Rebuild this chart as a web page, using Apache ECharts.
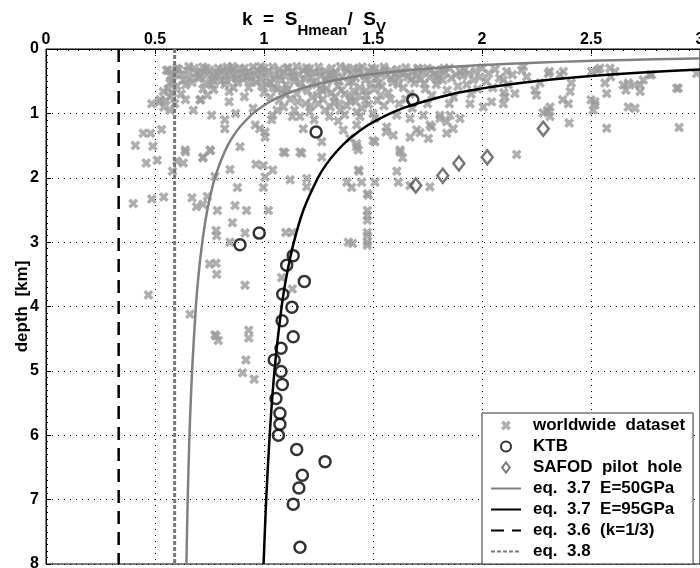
<!DOCTYPE html>
<html>
<head>
<meta charset="utf-8">
<script src="https://cdn.jsdelivr.net/npm/echarts@6/dist/echarts.min.js"></script>
<style>
html,body{margin:0;padding:0;background:#fff;}
#chart{width:700px;height:568px;}
</style>
</head>
<body>
<div id="chart"></div>
<script>
// x ticks (k) and y ticks (depth, km)
var kTicks = [0, 0.5, 1, 1.5, 2, 2.5, 3];
var depthTicks = [0, 1, 2, 3, 4, 5, 6, 7, 8];

// worldwide dataset: [k, depth km]
var worldwide = [
[0.553,0.33],[0.569,0.53],[0.538,0.66],[0.523,0.79],[0.485,0.85],[0.56,0.33],[0.57,0.42],[0.58,0.5],[0.56,0.62],[0.57,0.74],[0.59,0.85],[0.55,0.8],[0.6,0.3],[0.59,0.38],[0.6,0.58],[0.58,0.68],[0.57,0.95],[0.52,0.82],[0.54,0.9],
[0.61,0.32],[0.62,0.4],[0.63,0.48],[0.65,0.34],[0.66,0.45],[0.68,0.3],[0.69,0.38],[0.64,0.56],[0.67,0.52],[0.62,0.7],[0.7,0.46],[0.64,0.79],[0.676,0.95],[0.706,0.79],
[0.71,0.35],[0.72,0.28],[0.74,0.4],[0.75,0.33],[0.77,0.44],[0.78,0.36],[0.73,0.52],[0.76,0.56],[0.79,0.3],[0.8,0.5],[0.72,0.62],[0.74,0.72],[0.71,0.79],[0.77,0.63],[0.76,1.03],
[0.81,0.32],[0.82,0.41],[0.83,0.28],[0.84,0.36],[0.85,0.46],[0.86,0.32],[0.87,0.4],[0.88,0.52],[0.89,0.3],[0.9,0.38],[0.82,0.55],[0.84,0.66],[0.84,0.82],[0.87,1.0],[0.82,1.1],[0.82,1.24],[0.86,0.6],
[0.91,0.3],[0.92,0.43],[0.93,0.35],[0.94,0.5],[0.95,0.28],[0.96,0.4],[0.97,0.33],[0.98,0.47],[0.99,0.37],[1.0,0.3],[0.91,0.74],[0.95,0.92],[0.96,1.18],[0.93,0.6],[0.99,0.58],[1.0,0.68],
[1.01,0.44],[1.02,0.34],[1.03,0.52],[1.04,0.28],[1.05,0.4],[1.06,0.62],[1.07,0.32],[1.08,0.48],[1.09,0.37],[1.1,0.56],[1.04,1.03],[1.035,1.1],[1.005,1.29],[1.005,1.37],[1.09,0.9],[1.03,0.75],[1.07,0.8],[1.1,0.7],[1.06,0.95],[0.98,1.24],
[1.11,0.3],[1.12,0.42],[1.13,0.35],[1.14,0.5],[1.15,0.27],[1.16,0.4],[1.17,0.6],[1.18,0.33],[1.19,0.47],[1.2,0.38],[1.13,1.05],[1.165,1.05],[1.18,1.24],[1.12,0.78],[1.15,0.7],[1.19,0.85],[1.14,0.95],[1.2,0.65],[1.11,0.62],
[1.21,0.31],[1.22,0.44],[1.23,0.36],[1.24,0.55],[1.25,0.28],[1.26,0.42],[1.27,0.65],[1.28,0.34],[1.29,0.5],[1.3,0.4],[1.22,0.75],[1.25,0.85],[1.28,0.95],[1.21,0.98],[1.3,1.05],[1.27,0.78],[1.23,1.1],[1.26,0.6],
[1.31,0.3],[1.32,0.47],[1.33,0.37],[1.34,0.58],[1.35,0.27],[1.36,0.43],[1.37,0.7],[1.38,0.33],[1.39,0.52],[1.4,0.39],[1.32,0.82],[1.35,0.95],[1.38,0.88],[1.31,0.68],[1.4,0.75],[1.364,1.26],[1.394,1.39],[1.34,1.12],[1.37,1.02],
[1.41,0.3],[1.42,0.45],[1.43,0.36],[1.44,0.6],[1.45,0.28],[1.46,0.41],[1.47,0.72],[1.48,0.34],[1.49,0.53],[1.5,0.4],[1.42,0.82],[1.45,0.92],[1.48,0.86],[1.425,1.18],[1.425,1.52],[1.44,1.05],[1.5,1.0],[1.41,0.65],[1.47,0.65],
[1.51,0.31],[1.52,0.46],[1.53,0.37],[1.54,0.58],[1.55,0.28],[1.56,0.42],[1.57,0.68],[1.58,0.34],[1.59,0.52],[1.6,0.4],[1.52,0.8],[1.55,0.88],[1.58,0.78],[1.509,1.08],[1.5,1.42],[1.563,1.21],[1.593,1.34],[1.56,1.29],
[1.61,0.32],[1.62,0.45],[1.63,0.38],[1.64,0.6],[1.65,0.29],[1.66,0.43],[1.67,0.7],[1.68,0.35],[1.69,0.53],[1.7,0.41],[1.62,0.85],[1.65,0.78],[1.609,1.03],[1.67,1.08],[1.624,1.57],[1.7,1.26],[1.67,1.37],[1.68,0.92],
[1.71,0.31],[1.72,0.47],[1.73,0.36],[1.74,0.62],[1.75,0.3],[1.76,0.44],[1.77,0.72],[1.78,0.38],[1.79,0.55],[1.8,0.42],[1.731,1.03],[1.754,1.39],[1.769,1.21],[1.761,1.18],[1.75,0.85],[1.716,1.3],
[1.81,0.33],[1.82,0.48],[1.83,0.37],[1.84,0.64],[1.85,0.3],[1.86,0.45],[1.87,0.75],[1.88,0.4],[1.89,0.58],[1.9,0.35],[1.807,1.03],[1.838,1.13],[1.899,1.08],[1.853,1.03],[1.807,1.08],[1.838,1.31],[1.868,1.24],[1.85,0.85],
[1.91,0.42],[1.92,0.32],[1.93,0.55],[1.94,0.38],[1.945,0.85],[1.96,0.48],[1.97,0.34],[1.98,0.62],[1.99,0.44],[2.0,0.3],[1.95,0.7],
[2.006,0.9],[2.044,0.82],[2.098,0.85],[2.02,0.5],[2.03,0.38],[2.05,0.6],[2.06,0.32],[2.08,0.45],[2.1,0.68],[2.106,0.74],[2.113,0.35],[2.098,0.48],[2.12,0.55],[2.14,0.4],
[2.151,0.69],[2.182,0.33],[2.205,0.43],[2.243,0.64],[2.25,0.72],[2.266,0.53],[2.304,0.38],[2.358,0.4],[2.373,0.35],[2.41,0.53],[2.404,0.66],[2.396,0.85],[2.312,0.9],[2.28,0.99],[2.304,0.98],[2.312,1.05],[2.4,1.15],
[2.503,0.35],[2.541,0.3],[2.587,0.3],[2.61,0.35],[2.564,0.53],[2.572,0.69],[2.518,0.82],[2.518,0.87],[2.572,1.23],[2.648,0.56],[2.671,0.53],[2.725,0.56],[2.725,0.66],[2.74,0.48],[2.778,0.4],[2.671,0.9],[2.702,0.92],[2.893,0.61],[2.904,1.22],[2.985,0.38],[2.159,1.64],
[2.19,0.27],[2.31,0.35],[2.53,0.33],[2.59,0.43],[2.7,0.56],[2.66,0.64],[2.9,0.61],[2.77,0.4],[2.37,0.79],[2.3,0.95],[2.5,0.79],[2.51,0.95],
[0.41,1.5],[0.446,1.31],[0.48,1.31],[0.53,1.25],[0.49,1.51],[0.46,1.77],[0.51,1.73],[0.58,1.9],[0.6,1.74],[0.63,1.77],[0.64,1.6],[0.72,1.69],[0.755,1.58],[0.4,2.4],[0.485,2.33],[0.54,2.3],[0.67,2.31],[0.69,2.45],[0.72,2.41],[0.74,2.29],[0.775,1.98],[0.786,2.51],
[0.844,1.87],[0.878,2.15],[0.867,2.43],[0.92,2.51],[0.855,2.7],[0.78,2.82],[0.783,2.9],[0.844,3.0],[0.913,2.86],[0.963,1.79],[0.997,1.81],[1.04,1.88],[1.005,1.99],[0.997,2.15],[1.02,2.51],[1.096,1.61],[1.173,1.62],[1.12,2.03],[1.196,2.01],[1.196,2.14],[1.1,2.85],[1.13,2.85],
[0.75,3.34],[0.78,3.33],[0.783,3.5],[0.913,3.67],[0.47,3.82],[0.66,4.12],[0.78,4.46],[0.79,4.53],[0.775,4.44],[0.93,4.37],[0.93,4.49],[1.13,3.73],[1.081,3.55],[1.387,3.0],[1.38,2.07],[1.265,1.44],[1.265,1.68],[0.917,4.83],[0.902,5.03],[0.955,5.13],
[0.638,1.57],[0.752,1.57],[0.72,1.68],[0.89,1.52],[1.089,1.6],[1.165,1.6],
[1.474,2.25],[1.474,2.51],[1.474,2.59],[1.474,2.66],[1.474,2.85],[1.474,2.9],[1.474,3.0],[1.474,3.05],[1.407,3.02],[1.436,1.9],[1.448,2.07],[1.402,2.15],[1.509,2.07],[1.509,1.44],[1.609,1.9],[1.616,2.07],[1.624,1.6],[1.636,1.69],[1.761,2.14],[1.67,2.12],[1.425,1.47],[1.433,1.57],[1.478,2.27],[1.433,1.88],
[0.655,0.27],[0.705,0.42],[0.735,0.3],[0.765,0.48],[0.795,0.41],[0.825,0.49],[0.855,0.27],[0.875,0.45],[0.905,0.47],[0.935,0.42],[0.965,0.52],[0.985,0.27],[1.015,0.55],[1.045,0.47],[1.075,0.42],[1.105,0.29],[1.135,0.44],[1.165,0.52],[1.195,0.29],[1.225,0.52],
[1.255,0.36],[1.285,0.45],[1.315,0.4],[1.345,0.5],[1.375,0.29],[1.405,0.5],[1.435,0.31],[1.465,0.48],[1.495,0.29],[1.525,0.54],[1.555,0.33],[1.585,0.46],[1.615,0.55],[1.645,0.36],[1.675,0.47],[1.705,0.3],[1.735,0.54],[1.765,0.33],[1.795,0.48],[1.825,0.3],
[1.245,0.72],[1.285,0.62],[1.325,0.75],[1.355,0.64],[1.395,0.8],[1.435,0.72],[1.465,0.8],[1.505,0.62],[1.535,0.72],[1.215,0.88],[1.305,0.9],[1.345,0.85],[1.425,0.98],[1.155,0.82],[1.085,0.66],[1.045,0.6]
];

// KTB borehole: [k, depth km]
var ktb = [
[1.683,0.79],[1.239,1.29],[0.89,3.04],[0.978,2.86],[1.134,3.21],[1.104,3.36],[1.185,3.61],[1.086,3.81],[1.128,4.01],[1.083,4.22],[1.134,4.47],[1.078,4.65],
[1.047,4.83],[1.078,5.01],[1.084,5.21],[1.055,5.43],[1.073,5.66],[1.073,5.83],[1.066,6.0],[1.15,6.22],[1.28,6.41],[1.176,6.62],[1.16,6.82],[1.134,7.07],[1.165,7.74]
];

// SAFOD pilot hole: [k, depth km]
var safod = [[2.281,1.24],[2.024,1.68],[1.894,1.78],[1.82,1.97],[1.696,2.12]];

// eq. 3.7 curves: [k, depth km]
var eq37E50 = [[3.0,0.146],[2.93,0.15],[2.79,0.16],[2.54,0.18],[2.35,0.2],[2.19,0.22],[2.06,0.24],[2.0,0.25],[1.85,0.28],[1.77,0.3],[1.6,0.35],[1.475,0.4],[1.38,0.45],[1.3,0.5],[1.24,0.55],[1.183,0.6],[1.1,0.7],[1.0375,0.8],[0.989,0.9],[0.95,1.0],[0.892,1.2],[0.85,1.4],[0.819,1.6],[0.775,2.0],[0.74,2.5],[0.717,3.0],[0.7,3.5],[0.6875,4.0],[0.67,5.0],[0.658,6.0],[0.65,7.0],[0.644,8.0]];
var eq37E95 = [[3.0,0.319],[2.815,0.35],[2.578,0.4],[2.393,0.45],[2.245,0.5],[2.124,0.55],[2.023,0.6],[1.938,0.65],[1.865,0.7],[1.75,0.8],[1.654,0.9],[1.58,1.0],[1.52,1.1],[1.469,1.2],[1.39,1.4],[1.331,1.6],[1.284,1.8],[1.2475,2.0],[1.181,2.5],[1.137,3.0],[1.105,3.5],[1.081,4.0],[1.048,5.0],[1.026,6.0],[1.01,7.0],[0.998,8.0]];
// vertical reference lines
var eq36 = [[0.3333,0],[0.3333,8]];
var eq38 = [[0.59,0],[0.59,8]];

var names = ['worldwide  dataset','KTB','SAFOD  pilot  hole','eq.  3.7  E=50GPa','eq.  3.7  E=95GPa','eq.  3.6  (k=1/3)','eq.  3.8'];

var FONT = 'Liberation Sans, Arial, sans-serif';
var crossPath = 'path://M2.5,0 L5,2.5 L7.5,0 L10,2.5 L7.5,5 L10,7.5 L7.5,10 L5,7.5 L2.5,10 L0,7.5 L2.5,5 L0,2.5 Z';
var diamondPath = 'path://M5,0 L10,6.5 L5,13 L0,6.5 Z';
var NOFILL = 'rgba(0,0,0,0)';

var legendData = names.map(function (n, i) {
  return i === 2 ? {name: n, icon: diamondPath} : {name: n};
});

var chart = echarts.init(document.getElementById('chart'), null, {renderer:'canvas'});
chart.setOption({
  animation: false,
  backgroundColor: '#fff',
  title: {
    text: '{a|k  =  S}{h|Hmean}{a|/  S}{v|V}',
    left: 237, top: -4,
    textStyle: {
      rich: {
        a: {fontSize: 19, fontWeight: 'bold', fontFamily: FONT, color: '#000'},
        h: {fontSize: 15, fontWeight: 'bold', fontFamily: FONT, color: '#000', padding: [22,0,0,0]},
        v: {fontSize: 15, fontWeight: 'bold', fontFamily: FONT, color: '#000', padding: [16,0,0,0]}
      }
    }
  },
  grid: {left: 46, top: 49, right: 0, bottom: 4, containLabel: false, outerBoundsMode: 'none',
         show: true, borderColor: '#000', borderWidth: 1, backgroundColor: 'transparent'},
  legend: {
    data: legendData,
    orient: 'vertical',
    left: 482, top: 413,
    padding: [4, 8, 4, 8],
    itemGap: 4,
    itemWidth: 30, itemHeight: 10,
    symbolKeepAspect: true,
    backgroundColor: '#fff',
    borderColor: '#333', borderWidth: 1,
    textStyle: {fontSize: 17, fontWeight: 'bold', fontFamily: FONT, color: '#000', padding: [0,0,0,7]}
  },
  xAxis: {
    type: 'value', position: 'top', min: kTicks[0], max: kTicks[kTicks.length-1], interval: 0.5,
    axisLine: {show: true, lineStyle: {color: '#000', width: 1}},
    axisTick: {show: true, inside: true, length: 5, lineStyle: {color: '#000'}},
    minorTick: {show: true, splitNumber: 10, length: 2, lineStyle: {color: '#000'}},
    axisLabel: {fontSize: 16, fontWeight: 'bold', fontFamily: FONT, color: '#000', margin: 1},
    splitLine: {show: true, lineStyle: {color: '#000', type: [1,5], width: 1}}
  },
  yAxis: {
    type: 'value', inverse: true, min: depthTicks[0], max: depthTicks[depthTicks.length-1], interval: 1,
    name: 'depth  [km]', nameLocation: 'middle', nameRotate: 90, nameGap: 15, nameMoveOverlap: false,
    nameTextStyle: {fontSize: 17, fontWeight: 'bold', fontFamily: FONT, color: '#000'},
    axisLine: {show: true, lineStyle: {color: '#000', width: 1}},
    axisTick: {show: true, inside: true, length: 5, lineStyle: {color: '#000'}},
    minorTick: {show: true, splitNumber: 10, length: 2, lineStyle: {color: '#000'}},
    axisLabel: {fontSize: 16, fontWeight: 'bold', fontFamily: FONT, color: '#000', margin: 7},
    splitLine: {show: true, lineStyle: {color: '#000', type: [1,5], width: 1}}
  },
  series: [
    {name: names[0], type: 'scatter', data: worldwide, symbol: crossPath, symbolSize: 10,
     itemStyle: {color: '#9b9b9b'}, z: 2},
    {name: names[5], type: 'line', data: eq36, symbol: 'none', lineStyle: {color: '#000', width: 2.5, type: [13,8]}, itemStyle:{color: NOFILL}, z: 3},
    {name: names[6], type: 'line', data: eq38, symbol: 'none', lineStyle: {color: '#777', width: 3, type: [4,2]}, itemStyle:{color: NOFILL}, z: 3},
    {name: names[3], type: 'line', data: eq37E50, symbol: 'none', smooth: 0.2, lineStyle: {color: '#808080', width: 2.5}, itemStyle:{color: NOFILL}, z: 4},
    {name: names[4], type: 'line', data: eq37E95, symbol: 'none', smooth: 0.2, lineStyle: {color: '#000', width: 2.5}, itemStyle:{color: NOFILL}, z: 4},
    {name: names[1], type: 'scatter', data: ktb, symbol: 'circle', symbolSize: 11,
     itemStyle: {color: NOFILL, borderColor: '#000', borderWidth: 2.5}, z: 5},
    {name: names[2], type: 'scatter', data: safod, symbol: 'diamond', symbolSize: [11,14],
     itemStyle: {color: NOFILL, borderColor: '#555', borderWidth: 2.5}, z: 5}
  ]
});
</script>
</body>
</html>
